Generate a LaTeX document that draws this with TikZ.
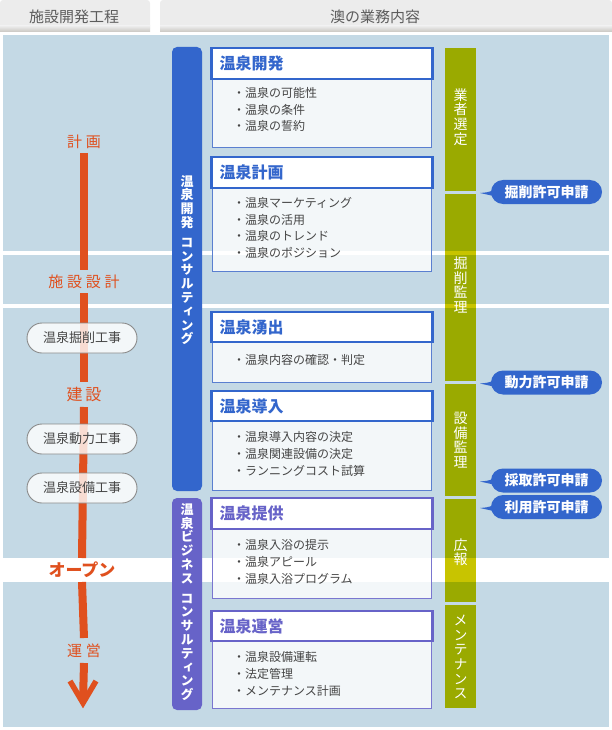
\documentclass[tikz,border=0pt]{standalone}
\usepackage{fontspec}
\setmainfont{Noto Sans CJK JP}
\newfontfamily\vjp[RawFeature=+vert]{Noto Sans CJK JP}
\usetikzlibrary{calc}
\definecolor{bgblue}{HTML}{C4D9E5}
\definecolor{hdrgray}{HTML}{ECECEC}
\definecolor{hdrdark}{HTML}{C9C6C1}
\definecolor{hdrtextc}{HTML}{5C5C5C}
\definecolor{redo}{HTML}{E0501E}
\definecolor{cblue}{HTML}{3366CC}
\definecolor{cpurple}{HTML}{6763C8}
\definecolor{bodyblue}{HTML}{5A7FD0}
\definecolor{bodypurple}{HTML}{7A76D0}
\definecolor{olive}{HTML}{9AAA00}
\definecolor{oliveband}{HTML}{C8C400}
\definecolor{itemtext}{HTML}{454545}
\definecolor{pillborder}{HTML}{8A8A8A}
\begin{document}
\begin{tikzpicture}[x=1pt,y=-1pt,
  every node/.style={inner sep=0pt, outer sep=0pt},
  hdrtext/.style={text=hdrtextc, font=\fontsize{15}{17}\selectfont},
  redlabel/.style={text=redo, font=\fontsize{15}{17}\selectfont\addfontfeature{LetterSpace=25}},
  redline/.style={draw=redo, line width=8pt},
  pillnode/.style={draw=pillborder, line width=0.9pt, fill=white, fill opacity=0.8, text opacity=1, rounded corners=15pt, minimum width=110pt, minimum height=30pt, text=itemtext, font=\fontsize{13}{15}\selectfont},
  barnode/.style={fill=#1, rounded corners=5pt, minimum width=30pt},
  bartext/.style={text=white, align=center, font=\vjp\bfseries\fontsize{13}{13.8}\selectfont},
  olivebar/.style={fill=olive, minimum width=31pt},
  olivetext/.style={text=white, align=center, font=\vjp\fontsize{14}{14.6}\selectfont},
  boxhead/.style={draw=#1, line width=2.5pt, fill=white, text=#1, anchor=north west, minimum width=221pt, text width=205pt, align=left, inner xsep=8pt, font=\bfseries\fontsize{16}{18}\selectfont},
  boxbody/.style={draw=#1, line width=1pt, fill=white, fill opacity=0.8, anchor=north west, minimum width=219pt},
  itemnode/.style={anchor=west, text=itemtext, font=\fontsize{12}{14}\selectfont},
  callout/.style={fill=cblue, rounded corners=12pt, minimum width=111pt, minimum height=24pt, text=white, font=\bfseries\fontsize{14}{16}\selectfont},
]
\useasboundingbox (0,0) rectangle (612,730);
% header tabs
\fill[hdrgray, rounded corners=3pt] (0,32) -- (0,0) -- (150,0) -- (150,32) -- cycle;
\shade[top color=hdrgray, bottom color=hdrdark] (0,26) rectangle (150,32);
\fill[hdrgray, rounded corners=3pt] (160,32) -- (160,0) -- (612,0) -- (612,32) -- cycle;
\shade[top color=hdrgray, bottom color=hdrdark] (160,26) rectangle (612,32);
\node[hdrtext] (htab1) at (74,17) {施設開発工程};
\node[hdrtext] (htab2) at (375,17) {澳の業務内容};
% background
\fill[bgblue] (3,35) rectangle (609,727);
\fill[white] (3,251) rectangle (609,254.5);
\fill[white] (3,304) rectangle (609,307.5);
\fill[white] (0,558) rectangle (612,582);
% process line
\node[redlabel, minimum height=22pt] (keikaku) at (84,142) {計画};
\node[redlabel, minimum height=23pt] (sekkei) at (84,281.5) {施設設計};
\node[redlabel, minimum height=25pt, font=\fontsize{16}{18}\selectfont\addfontfeature{LetterSpace=18}] (kensetsu) at (84,394.5) {建設};
\node[text=redo, minimum height=24pt, font=\bfseries\fontsize{17}{19}\selectfont] (open) at (82,570) {オープン};
\node[redlabel, minimum height=25pt] (unei) at (84,650.5) {運営};
\coordinate (shaftend) at (83,701);
\coordinate (tip) at (83,703);
\draw[redline] (keikaku.south) -- (sekkei.north);
\draw[redline] (sekkei.south) -- (kensetsu.north);
\draw[redline] (kensetsu.south) -- (open.north);
\draw[redline] (open.south) -- (unei.north);
\draw[redline] (unei.south) -- (shaftend);
\draw[draw=redo, line width=5.5pt, miter limit=10] ($(tip)+(-13,-22)$) -- (tip) -- ($(tip)+(13,-22)$);
% construction pills
\node[pillnode] (p1) at (82,338) {温泉掘削工事};
\node[pillnode] (p2) at (82,439) {温泉動力工事};
\node[pillnode] (p3) at (82,488) {温泉設備工事};
% consulting bars
\node[barnode=cblue, minimum height=444pt] (bar1) at (187,269) {};
\node[bartext] (bar1t) at (187,260) {温\\泉\\開\\発\\[6pt]コ\\ン\\サ\\ル\\テ\\ィ\\ン\\グ};
\node[barnode=cpurple, minimum height=212pt] (bar2) at (187,604) {};
\node[bartext] (bar2t) at (187,602) {温\\泉\\ビ\\ジ\\ネ\\ス\\[6pt]コ\\ン\\サ\\ル\\テ\\ィ\\ン\\グ};
% boxes
\node[boxbody=bodyblue, minimum height=69pt] (b1) at (212.5,79) {};
\node[boxhead=cblue, minimum height=31pt] (h1) at (211.5,48) {温泉開発};
\foreach \t [count=\k] in {・温泉の可能性, ・温泉の条件, ・温泉の誓約}
  \node[itemnode] (b1i\k) at (233,{93+16.5*(\k-1)}) {\t};
\node[boxbody=bodyblue, minimum height=83pt] (b2) at (212.5,188) {};
\node[boxhead=cblue, minimum height=31pt] (h2) at (211.5,157) {温泉計画};
\foreach \t [count=\k] in {・温泉マーケティング, ・温泉の活用, ・温泉のトレンド, ・温泉のポジション}
  \node[itemnode] (b2i\k) at (233,{203+16.7*(\k-1)}) {\t};
\node[boxbody=bodyblue, minimum height=40pt] (b3) at (212.5,342) {};
\node[boxhead=cblue, minimum height=30pt] (h3) at (211.5,312) {温泉湧出};
\node[itemnode] (b3i1) at (233,360) {・温泉内容の確認・判定};
\node[boxbody=bodyblue, minimum height=69pt] (b4) at (212.5,421) {};
\node[boxhead=cblue, minimum height=30pt] (h4) at (211.5,391) {温泉導入};
\foreach \t [count=\k] in {・温泉導入内容の決定, ・温泉関連設備の決定, ・ランニングコスト試算}
  \node[itemnode] (b4i\k) at (233,{437+17*(\k-1)}) {\t};
\node[boxbody=bodypurple, minimum height=69pt] (b5) at (212.5,529) {};
\node[boxhead=cpurple, minimum height=31pt] (h5) at (211.5,498) {温泉提供};
\foreach \t [count=\k] in {・温泉入浴の提示, ・温泉アピール, ・温泉入浴プログラム}
  \node[itemnode] (b5i\k) at (233,{545+17*(\k-1)}) {\t};
\node[boxbody=bodypurple, minimum height=67pt] (b6) at (212.5,641) {};
\node[boxhead=cpurple, minimum height=30pt] (h6) at (211.5,611) {温泉運営};
\foreach \t [count=\k] in {・温泉設備運転, ・法定管理, ・メンテナンス計画}
  \node[itemnode] (b6i\k) at (233,{657+17*(\k-1)}) {\t};
% supervision bars
\node[olivebar, minimum height=143pt] (g1) at (460.5,119.5) {};
\node[olivebar, minimum height=187pt] (g2) at (460.5,287.5) {};
\node[olivebar, minimum height=112pt] (g3) at (460.5,440) {};
\node[olivebar, minimum height=103pt] (g4) at (460.5,550.5) {};
\node[olivebar, minimum height=103pt] (g5) at (460.5,656.5) {};
\fill[oliveband] (445,251) rectangle (476,254.5);
\fill[oliveband] (445,304) rectangle (476,307.5);
\fill[oliveband] (445,558) rectangle (476,582);
\node[olivetext] (g1t) at (460.5,117) {業\\者\\選\\定};
\node[olivetext] (g2t) at (460.5,285) {掘\\削\\監\\理};
\node[olivetext] (g3t) at (460.5,440) {設\\備\\監\\理};
\node[olivetext] (g4t) at (460.5,552) {広\\報};
\node[olivetext] (g5t) at (460.5,657) {メ\\ン\\テ\\ナ\\ン\\ス};
% permit callouts
\foreach \n/\y/\t in {c1/192/掘削許可申請, c2/382.5/動力許可申請, c3/480.5/採取許可申請, c4/507/利用許可申請}{
  \node[callout] (\n) at (546.5,\y) {\t};
  \fill[cblue] ($(\n.west)+(7,-6)$) .. controls ($(\n.west)+(0,0)$) .. ($(\n.west)+(-11,1)$) -- ($(\n.west)+(7,5)$) -- cycle;
}
\end{tikzpicture}
\end{document}
